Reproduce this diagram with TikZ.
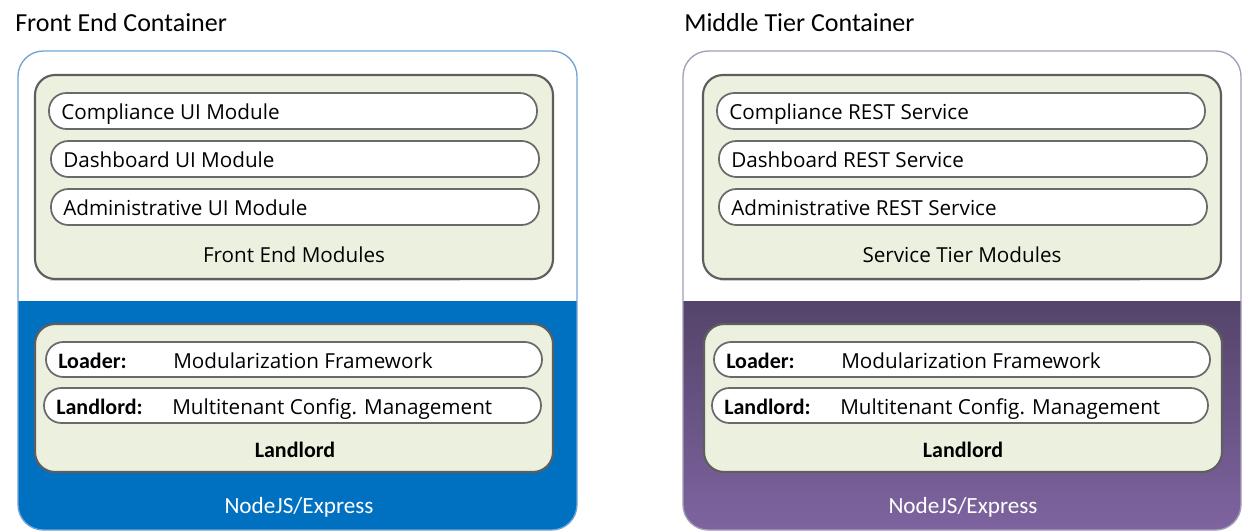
\documentclass[tikz,border=0pt]{standalone}
\usepackage{fontspec}
\setmainfont{Open Sans}
\newfontfamily\cali{Carlito}
\usetikzlibrary{calc}
\definecolor{feblue}{HTML}{0070C0}
\definecolor{feborder}{HTML}{6FA3D6}
\definecolor{mtborder}{HTML}{A39DB6}
\definecolor{purtop}{HTML}{54446A}
\definecolor{purbot}{HTML}{7E64A0}
\definecolor{modgreen}{HTML}{EBF1DE}
\definecolor{modline}{HTML}{5E5E5E}
\definecolor{pillline}{HTML}{6A6A6A}
\tikzset{
  x=0.75pt, y=-0.75pt,
  greenbox/.style={draw=modline, line width=1.6pt, fill=modgreen, rounded corners=15pt},
  pill/.style={draw=pillline, line width=1.3pt, fill=white, rounded corners=13pt},
  pilltext/.style={anchor=base west, inner sep=0pt, font=\fontsize{15.5}{17}\selectfont},
  boldlbl/.style={anchor=base west, inner sep=0pt, font=\cali\bfseries\fontsize{16.5}{18}\selectfont},
  grouplbl/.style={anchor=base, inner sep=0pt, font=\fontsize{15.5}{17}\selectfont},
  title/.style={anchor=base west, inner sep=0pt, font=\cali\fontsize{19.5}{22}\selectfont},
  whitelbl/.style={anchor=base, inner sep=0pt, text=white, font=\cali\fontsize{17.4}{19}\selectfont},
  shadowline/.style={draw=black!15, line width=1pt}
}
\begin{document}
\begin{tikzpicture}
\useasboundingbox (0,0) rectangle (1243,532);
% ---------------- Left container ----------------
\node[title] (t1) at (15,31) {Front End Container};
\coordinate (L1) at (18,51);
\coordinate (L2) at (577,530);
\fill[white, rounded corners=19pt] (L1) rectangle (L2);
\begin{scope}
  \clip[rounded corners=19pt] (L1) rectangle (L2);
  \fill[feblue] (18,301) rectangle (577,530);
\end{scope}
\draw[feborder, line width=1pt, rounded corners=19pt] (L1) rectangle (L2);
% front end modules
\draw[shadowline] (50,280.5) -- (460,280.5);
\draw[greenbox] (35,75) rectangle (553,279);
\draw[pill] (49,93) rectangle (537,129);
\node[pilltext] (a1) at (61,119) {Compliance UI Module};
\draw[pill] (51,141) rectangle (539,177);
\node[pilltext] (a2) at (63,167) {Dashboard UI Module};
\draw[pill] (51,189) rectangle (539,225);
\node[pilltext] (a3) at (63,215) {Administrative UI Module};
\node[grouplbl] (g1) at (294,262) {Front End Modules};
% landlord
\draw[greenbox] (35,324) rectangle (553,472);
\draw[pill] (46,342) rectangle (542,377);
\node[boldlbl] (b1) at (58,368) {Loader:};
\node[pilltext] (b1t) at (173,368) {Modularization Framework};
\draw[pill] (44,388) rectangle (541,423);
\node[boldlbl] (b2) at (56,414) {Landlord:};
\node[pilltext] (b2t) at (172,414) {Multitenant Config. Management};
\node[boldlbl, anchor=base] (g2) at (295,457) {Landlord};
\node[whitelbl] (n1) at (299,513.5) {NodeJS/Express};
% ---------------- Right container ----------------
\node[title] (t2) at (684,31) {Middle Tier Container};
\coordinate (R1) at (683,51);
\coordinate (R2) at (1241,530);
\fill[white, rounded corners=19pt] (R1) rectangle (R2);
\begin{scope}
  \clip[rounded corners=19pt] (R1) rectangle (R2);
  \shade[top color=purtop, bottom color=purbot] (683,301) rectangle (1241,530);
\end{scope}
\draw[mtborder, line width=1pt, rounded corners=19pt] (R1) rectangle (R2);
% service tier modules
\draw[shadowline] (720,280.5) -- (1140,280.5);
\draw[greenbox] (703,75) rectangle (1221,279);
\draw[pill] (717,93) rectangle (1205,129);
\node[pilltext] (c1) at (729,119) {Compliance REST Service};
\draw[pill] (719,141) rectangle (1207,177);
\node[pilltext] (c2) at (731,167) {Dashboard REST Service};
\draw[pill] (719,189) rectangle (1207,225);
\node[pilltext] (c3) at (731,215) {Administrative REST Service};
\node[grouplbl] (g3) at (962,262) {Service Tier Modules};
% landlord
\draw[greenbox] (704,324) rectangle (1222,472);
\draw[pill] (714,342) rectangle (1210,377);
\node[boldlbl] (d1) at (726,368) {Loader:};
\node[pilltext] (d1t) at (841,368) {Modularization Framework};
\draw[pill] (712,388) rectangle (1208,423);
\node[boldlbl] (d2) at (724,414) {Landlord:};
\node[pilltext] (d2t) at (840,414) {Multitenant Config. Management};
\node[boldlbl, anchor=base] (g4) at (963,457) {Landlord};
\node[whitelbl] (n2) at (963,513.5) {NodeJS/Express};
\end{tikzpicture}
\end{document}
